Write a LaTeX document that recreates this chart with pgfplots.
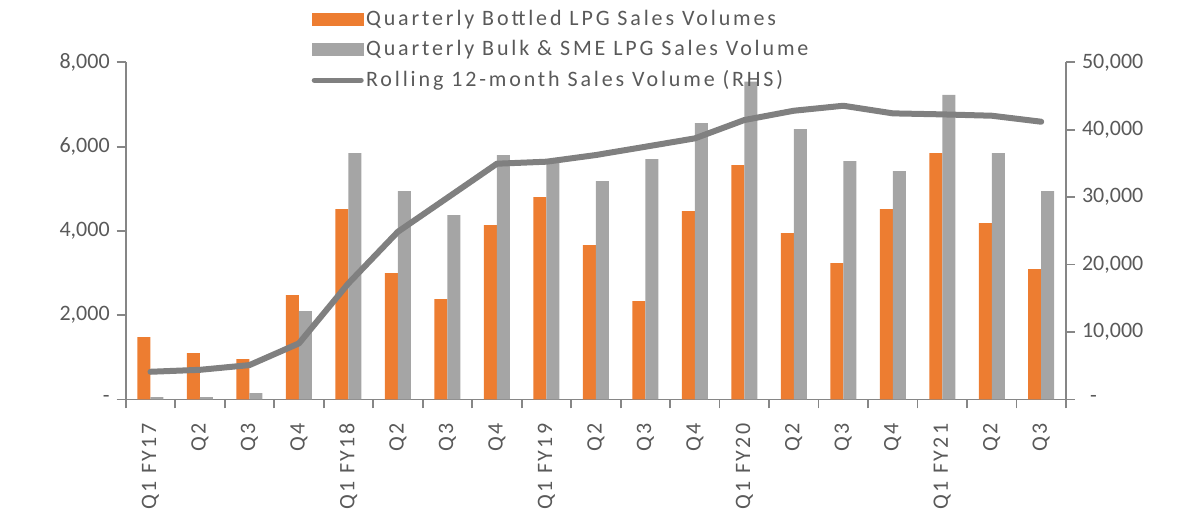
\documentclass[border=0pt]{standalone}
\usepackage{fontspec}
\setmainfont{Carlito}
\newfontfamily\spaced{Carlito}[LetterSpace=11]
\newfontfamily\lspaced{Carlito}[LetterSpace=13]
\usepackage{pgfplots}
\usepackage{pgfplotstable}
\pgfplotsset{compat=1.18}
\definecolor{barorange}{RGB}{237,125,49}
\definecolor{bargray}{RGB}{165,165,165}
\definecolor{linegray}{RGB}{128,128,128}
\definecolor{txt}{RGB}{89,89,89}
\definecolor{axgray}{RGB}{134,134,134}

\pgfplotstableread{
x bottled bulk rolling
0 1480 55 4100
1 1100 55 4390
2 957 150 5090
3 2476 2096 8310
4 4518 5848 17210
5 2999 4945 24870
6 2381 4376 29910
7 4138 5800 34960
8 4803 5650 35260
9 3663 5183 36250
10 2334 5705 37480
11 4471 6560 38720
12 5563 7540 41440
13 3948 6417 42820
14 3236 5658 43560
15 4518 5420 42430
16 5848 7225 42280
17 4186 5848 42080
18 3094 4945 41190
}\salesdata

\pgfplotsset{
  common/.style={
    at={(0,0)}, anchor=south west,
    width=470pt, height=168.5pt, scale only axis,
    xmin=-0.5, xmax=18.5,
    axis line style={draw=axgray, line width=0.9pt},
    tick style={draw=axgray, line width=0.9pt},
    tick align=outside,
    major tick length=4.5pt,
    scaled y ticks=false,
    tick label style={font=\fontsize{11}{13}\selectfont, text=txt},
  },
}

\begin{document}
\begin{tikzpicture}
\useasboundingbox (-62.85pt,-55.85pt) rectangle (527.5pt,199.65pt);
\begin{axis}[
    common,
    ybar=0pt, bar width=6.5pt,
    ymin=0, ymax=8000,
    axis y line*=left, axis x line*=bottom,
    ytick={0,2000,4000,6000,8000},
    yticklabels={-\hspace{2.5pt},{2,000},{4,000},{6,000},{8,000}},
    xtick={-0.5,0.5,...,18.5},
    xticklabels={},
    extra x ticks={0,...,18},
    extra x tick labels={Q1 FY17,Q2,Q3,Q4,Q1 FY18,Q2,Q3,Q4,Q1 FY19,Q2,Q3,Q4,Q1 FY20,Q2,Q3,Q4,Q1 FY21,Q2,Q3},
    extra x tick style={major tick length=0pt},
    x tick label style={rotate=90, anchor=east, font=\fontsize{11}{13}\selectfont\spaced},
    xticklabel shift=8.5pt,
    legend style={at={(0.191,1.174)}, anchor=north west, draw=none, fill=none,
      font=\fontsize{11}{13}\selectfont\lspaced, text=txt, row sep=3.5pt,
      nodes={inner sep=1.2pt}},
    legend cell align=left,
]
\addplot[draw=none, fill=barorange,
  legend image code/.code={\fill[barorange] (0pt,-3.25pt) rectangle (26pt,3.25pt);}]
  table[x=x, y=bottled]{\salesdata};
\addlegendentry{Quarterly Bottled LPG Sales Volumes}
\addplot[draw=none, fill=bargray,
  legend image code/.code={\fill[bargray] (0pt,-3.25pt) rectangle (26pt,3.25pt);}]
  table[x=x, y=bulk]{\salesdata};
\addlegendentry{Quarterly Bulk \& SME LPG Sales Volume}
\addlegendimage{legend image code/.code={\draw[linegray, line width=2.6pt, line cap=round] (1.3pt,0pt) -- (24.7pt,0pt);}}
\addlegendentry{Rolling 12-month Sales Volume (RHS)}
\end{axis}
\begin{axis}[
    common,
    ymin=0, ymax=50000,
    axis y line*=right, axis x line=none,
    ytick={0,10000,20000,30000,40000,50000},
    yticklabels={\hspace{4pt}-,{10,000},{20,000},{30,000},{40,000},{50,000}},
]
\addplot[linegray, line width=3pt, line cap=round, line join=round]
  table[x=x, y=rolling]{\salesdata};
\end{axis}
\end{tikzpicture}
\end{document}
